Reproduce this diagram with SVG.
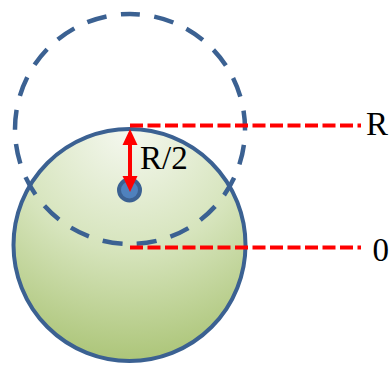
<svg xmlns="http://www.w3.org/2000/svg" width="389" height="365" viewBox="0 0 389 365">
  <defs>
    <radialGradient id="ballFill" cx="0.5" cy="0" r="1.05" fx="0.5" fy="0">
      <stop offset="0" stop-color="#F5F8F0"/>
      <stop offset="0.5" stop-color="#D6E4BC"/>
      <stop offset="1" stop-color="#A8C272"/>
    </radialGradient>
    <marker id="redHead" markerUnits="userSpaceOnUse" markerWidth="16" markerHeight="16" viewBox="0 0 16 15" refX="10" refY="7.5" orient="auto-start-reverse">
      <path d="M0,0 L16,7.5 L0,15 Z" fill="#FF0000"/>
    </marker>
    <style>
      .ball { fill: url(#ballFill); stroke: #3B6192; stroke-width: 4; }
      .ghost { fill: none; stroke: #3B6192; stroke-width: 4.5; stroke-dasharray: 20 14.41; stroke-dashoffset: 10; }
      .dot { fill: #4F81BD; stroke: #3B6192; stroke-width: 4; }
      .level { fill: none; stroke: #FF0000; stroke-width: 4; stroke-dasharray: 13 4.5; }
      .arrow { fill: none; stroke: #FF0000; stroke-width: 4; marker-start: url(#redHead); marker-end: url(#redHead); }
      .lbl { font-size: 33px; fill: #000000; }
    </style>
  </defs>

  <g id="solid-circle">
    <circle class="ball" cx="129.5" cy="245" r="116"/>
  </g>

  <g id="dashed-circle">
    <path class="ghost" d="M130,14 A115,115 0 1,1 130,244 A115,115 0 1,1 130,14 Z"/>
  </g>

  <g id="center-dot">
    <circle class="dot" cx="129.5" cy="190" r="10.5"/>
  </g>

  <g id="connectors">
    <line class="level" x1="130" y1="125.5" x2="361" y2="125.5"/>
    <line class="level" x1="130" y1="247.5" x2="361" y2="247.5"/>
    <line class="arrow" x1="130" y1="135" x2="130" y2="186"/>
  </g>

  <g id="label-half">
    <text class="lbl" font-family="'Liberation Serif', 'Times New Roman', 'DejaVu Serif', serif" x="140" y="168.5">R/2</text>
  </g>
  <g id="label-R">
    <text class="lbl" font-family="'Liberation Serif', 'Times New Roman', 'DejaVu Serif', serif" x="366" y="135">R</text>
  </g>
  <g id="label-0">
    <text class="lbl" font-family="'Liberation Serif', 'Times New Roman', 'DejaVu Serif', serif" x="372.5" y="261">0</text>
  </g>
</svg>
